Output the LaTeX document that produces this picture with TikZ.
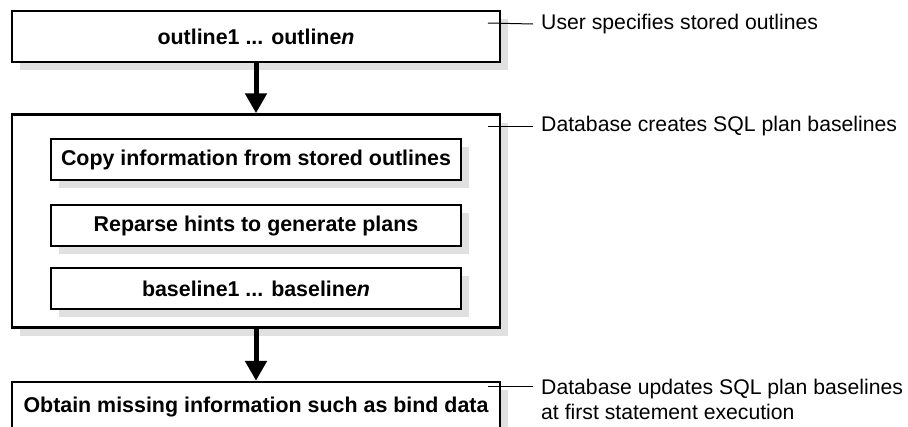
\documentclass[tikz,border=0pt]{standalone}
\usepackage{fontspec}
\setmainfont{Liberation Sans}
\usetikzlibrary{arrows.meta,positioning,shadows}
\tikzstyle{stage}=[draw=black, line width=2.5pt, fill=white, minimum width=488pt, minimum height=51pt, inner sep=0pt, font=\fontsize{21.4}{25}\selectfont\bfseries, drop shadow={shadow xshift=8pt, shadow yshift=-8pt, fill=black!12, opacity=1}]
\tikzstyle{substage}=[draw=black, line width=2pt, fill=white, minimum width=410pt, minimum height=41pt, inner sep=0pt, font=\fontsize{21.4}{25}\selectfont\bfseries, drop shadow={shadow xshift=8pt, shadow yshift=-8pt, fill=black!12, opacity=1}]
\tikzstyle{note}=[anchor=west, inner xsep=8pt, inner ysep=0pt, align=left, font=\fontsize{21.2}{25}\selectfont]
\tikzstyle{flow}=[line width=5pt, -{Triangle[width=21pt,length=20pt]}]
\tikzstyle{callout}=[line width=1pt]
\begin{document}
\begin{tikzpicture}[x=1pt, y=-1pt]
  \useasboundingbox (0,0) rectangle (908,426);
%
  \node[stage] (outlines) at (256,36.5) {outline1 ... outline\textit{n}};
  \node[stage, minimum height=213pt] (create) [below = 50pt of outlines] {};
  \node[stage] (obtain) [below = 52pt of create] {Obtain missing information such as bind data};
  \node[substage] (copyinfo) [below = 25pt of create.north] {Copy information from stored outlines};
  \node[substage] (reparse) [below = 23pt of copyinfo] {Reparse hints to generate plans};
  \node[substage] (baselines) [below = 20pt of reparse] {baseline1 ... baseline\textit{n}};
%
  \node[note] (userlbl) at (533,24) {User specifies stored outlines};
  \node[note] (createlbl) at (533,126) {Database creates SQL plan baselines};
  \node[note, anchor=north west] (updatelbl) at (533,379) {Database updates SQL plan baselines\\at first statement execution};
%
  \draw[flow] (outlines) -- (create);
  \draw[flow] (create) -- (obtain);
  \draw[callout] (488,23) -- (userlbl.west);
  \draw[callout] (488,126) -- (createlbl.west);
  \draw[callout] (488,386) -- (533,386);
%
\end{tikzpicture}
\end{document}
